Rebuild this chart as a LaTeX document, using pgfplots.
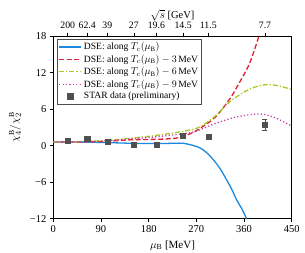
\documentclass[border=0pt]{standalone}
\usepackage{pgfplots}
\pgfplotsset{compat=1.18}
\usepackage{fontspec}
\setmainfont{Liberation Serif}
\definecolor{cblue}{RGB}{27,138,222}
\definecolor{cred}{RGB}{232,28,52}
\definecolor{cgreen}{RGB}{170,200,30}
\definecolor{cmag}{RGB}{195,65,165}
\definecolor{cgray}{RGB}{80,80,80}
\tikzset{
  sblue/.style={draw=cblue, line width=1.3pt, solid},
  sred/.style={draw=cred, line width=1.3pt, dash pattern=on 5pt off 2.5pt},
  sgreen/.style={draw=cgreen, line width=1.3pt, dash pattern=on 5pt off 2pt on 1.2pt off 2pt},
  smag/.style={draw=cmag, line width=1.3pt, dash pattern=on 1.2pt off 2.2pt},
}
\begin{document}
\fontsize{10pt}{12pt}\selectfont
\begin{tikzpicture}
\begin{axis}[
  at={(0,0)}, anchor=south west,
  scale only axis, width=238.4pt, height=182.7pt,
  xmin=0, xmax=450, ymin=-12, ymax=18,
  xtick={0,90,180,270,360,450},
  ytick={-12,-6,0,6,12,18},
  yticklabels={−12,−6,0,6,12,18},
  /pgf/number format/assume math mode=true,
  axis x line*=bottom, axis y line*=left,
  tick align=outside, tick style={black, line width=0.6pt}, major tick length=3.5pt,
  axis line style={black, line width=0.7pt},
  ticklabel style={font=\fontsize{10.5pt}{12pt}\selectfont},
  xlabel={$\mu_{\rm B}$ [MeV]},
  ylabel={$\chi_4^{\rm B}/\chi_2^{\rm B}$},
  xlabel style={yshift=-1pt, font=\fontsize{11pt}{12pt}\selectfont},
  ylabel style={yshift=2pt, font=\fontsize{11pt}{12pt}\selectfont},
  legend style={at={(0.015,0.985)}, anchor=north west, draw=black!70, line width=0.5pt,
    font=\fontsize{9.6pt}{10pt}\selectfont, inner sep=1.5pt, row sep=-0.6pt, fill=white},
  legend cell align=left,
  clip=true,
]
\addplot[sblue, smooth, legend image code/.code={\draw[sblue] (0pt,0pt) -- (22pt,0pt);}] coordinates {
(0,0.6)(50,0.58)(100,0.5)(150,0.38)(200,0.33)(230,0.4)(245,0.38)(260,0.12)(277,-0.38)(290,-1.2)(302,-2.3)(315,-3.8)(327,-5.6)(337,-7.2)(346,-8.9)(356,-10.4)(365,-12)};
\addlegendentry{DSE: along $T_c(\mu_{\rm B})$}
\addplot[sred, smooth, legend image code/.code={\draw[sred] (0pt,0pt) -- (22pt,0pt);}] coordinates {
(0,0.6)(50,0.6)(100,0.7)(145,0.95)(200,1.05)(230,1.2)(245,1.5)(257,1.9)(268,2.35)(280,3.0)(292,3.7)(305,4.6)(318,5.9)(330,7.3)(340,8.6)(349,10.0)(360,11.7)(370,13.4)(380,15.8)(388,18)(392,19.5)};
\addlegendentry{DSE: along $T_c(\mu_{\rm B})-3$\,MeV}
\addplot[sgreen, smooth, legend image code/.code={\draw[sgreen] (0pt,0pt) -- (22pt,0pt);}] coordinates {
(0,0.6)(50,0.65)(100,0.85)(145,1.2)(183,1.55)(220,2.0)(245,2.35)(268,2.75)(285,3.5)(305,4.8)(318,5.9)(330,7.0)(346,8.0)(362,8.9)(380,9.6)(400,10.0)(420,9.9)(435,9.6)(450,9.2)};
\addlegendentry{DSE: along $T_c(\mu_{\rm B})-6$\,MeV}
\addplot[smag, smooth, legend image code/.code={\draw[smag] (0pt,0pt) -- (22pt,0pt);}] coordinates {
(0,0.6)(50,0.65)(100,0.8)(145,1.1)(183,1.35)(220,1.7)(245,1.95)(268,2.3)(285,2.9)(305,3.6)(325,4.2)(343,4.65)(365,5.0)(384,5.2)(400,5.1)(418,4.6)(435,3.9)(450,3.2)};
\addlegendentry{DSE: along $T_c(\mu_{\rm B})-9$\,MeV}
\addplot[only marks, mark=square*, mark size=2.6pt, cgray, mark options={draw=cgray, fill=cgray},
  legend image code/.code={\fill[cgray] (8.4pt,-2.6pt) rectangle (13.6pt,2.6pt);},
  error bars/.cd, y dir=both, y explicit, error mark options={rotate=90, cgray, mark size=2.5pt, line width=0.7pt}, error bar style={line width=0.7pt}]
 coordinates {
(27.2,0.87)+-(0,0.15)(64,1.15)+-(0,0.15)(102,0.66)+-(0,0.15)(152,0.2)+-(0,0.15)(194.5,0.2)+-(0,0.15)(245,1.6)+-(0,0.15)(292.6,1.42)+-(0,0.15)(399.6,3.45)+-(0,0.9)};
\addlegendentry{STAR data (preliminary)}
\end{axis}
\begin{axis}[
  at={(0,0)}, anchor=south west,
  scale only axis, width=238.4pt, height=182.7pt,
  xmin=0, xmax=450, ymin=-12, ymax=18,
  axis x line*=top, axis y line*=right,
  ytick=\empty, xtick pos=upper,
  xtick={27.2,64,102,152,194.5,245,292.6,399.6},
  xticklabels={200,62.4,39,27,19.6,14.5,11.5,7.7},
  /pgf/number format/assume math mode=true,
  tick align=outside, tick style={black, line width=0.6pt}, major tick length=3.5pt,
  axis line style={black, line width=0.7pt},
  ticklabel style={font=\fontsize{9.8pt}{10pt}\selectfont},
  xlabel={$\sqrt{s}$ [GeV]},
  xlabel style={yshift=-5.5pt, font=\fontsize{10.5pt}{12pt}\selectfont},
]
\end{axis}
\pgfresetboundingbox
\path[use as bounding box] (-53.3pt,-33.3pt) rectangle (251.7pt,218.7pt);
\end{tikzpicture}
\end{document}
